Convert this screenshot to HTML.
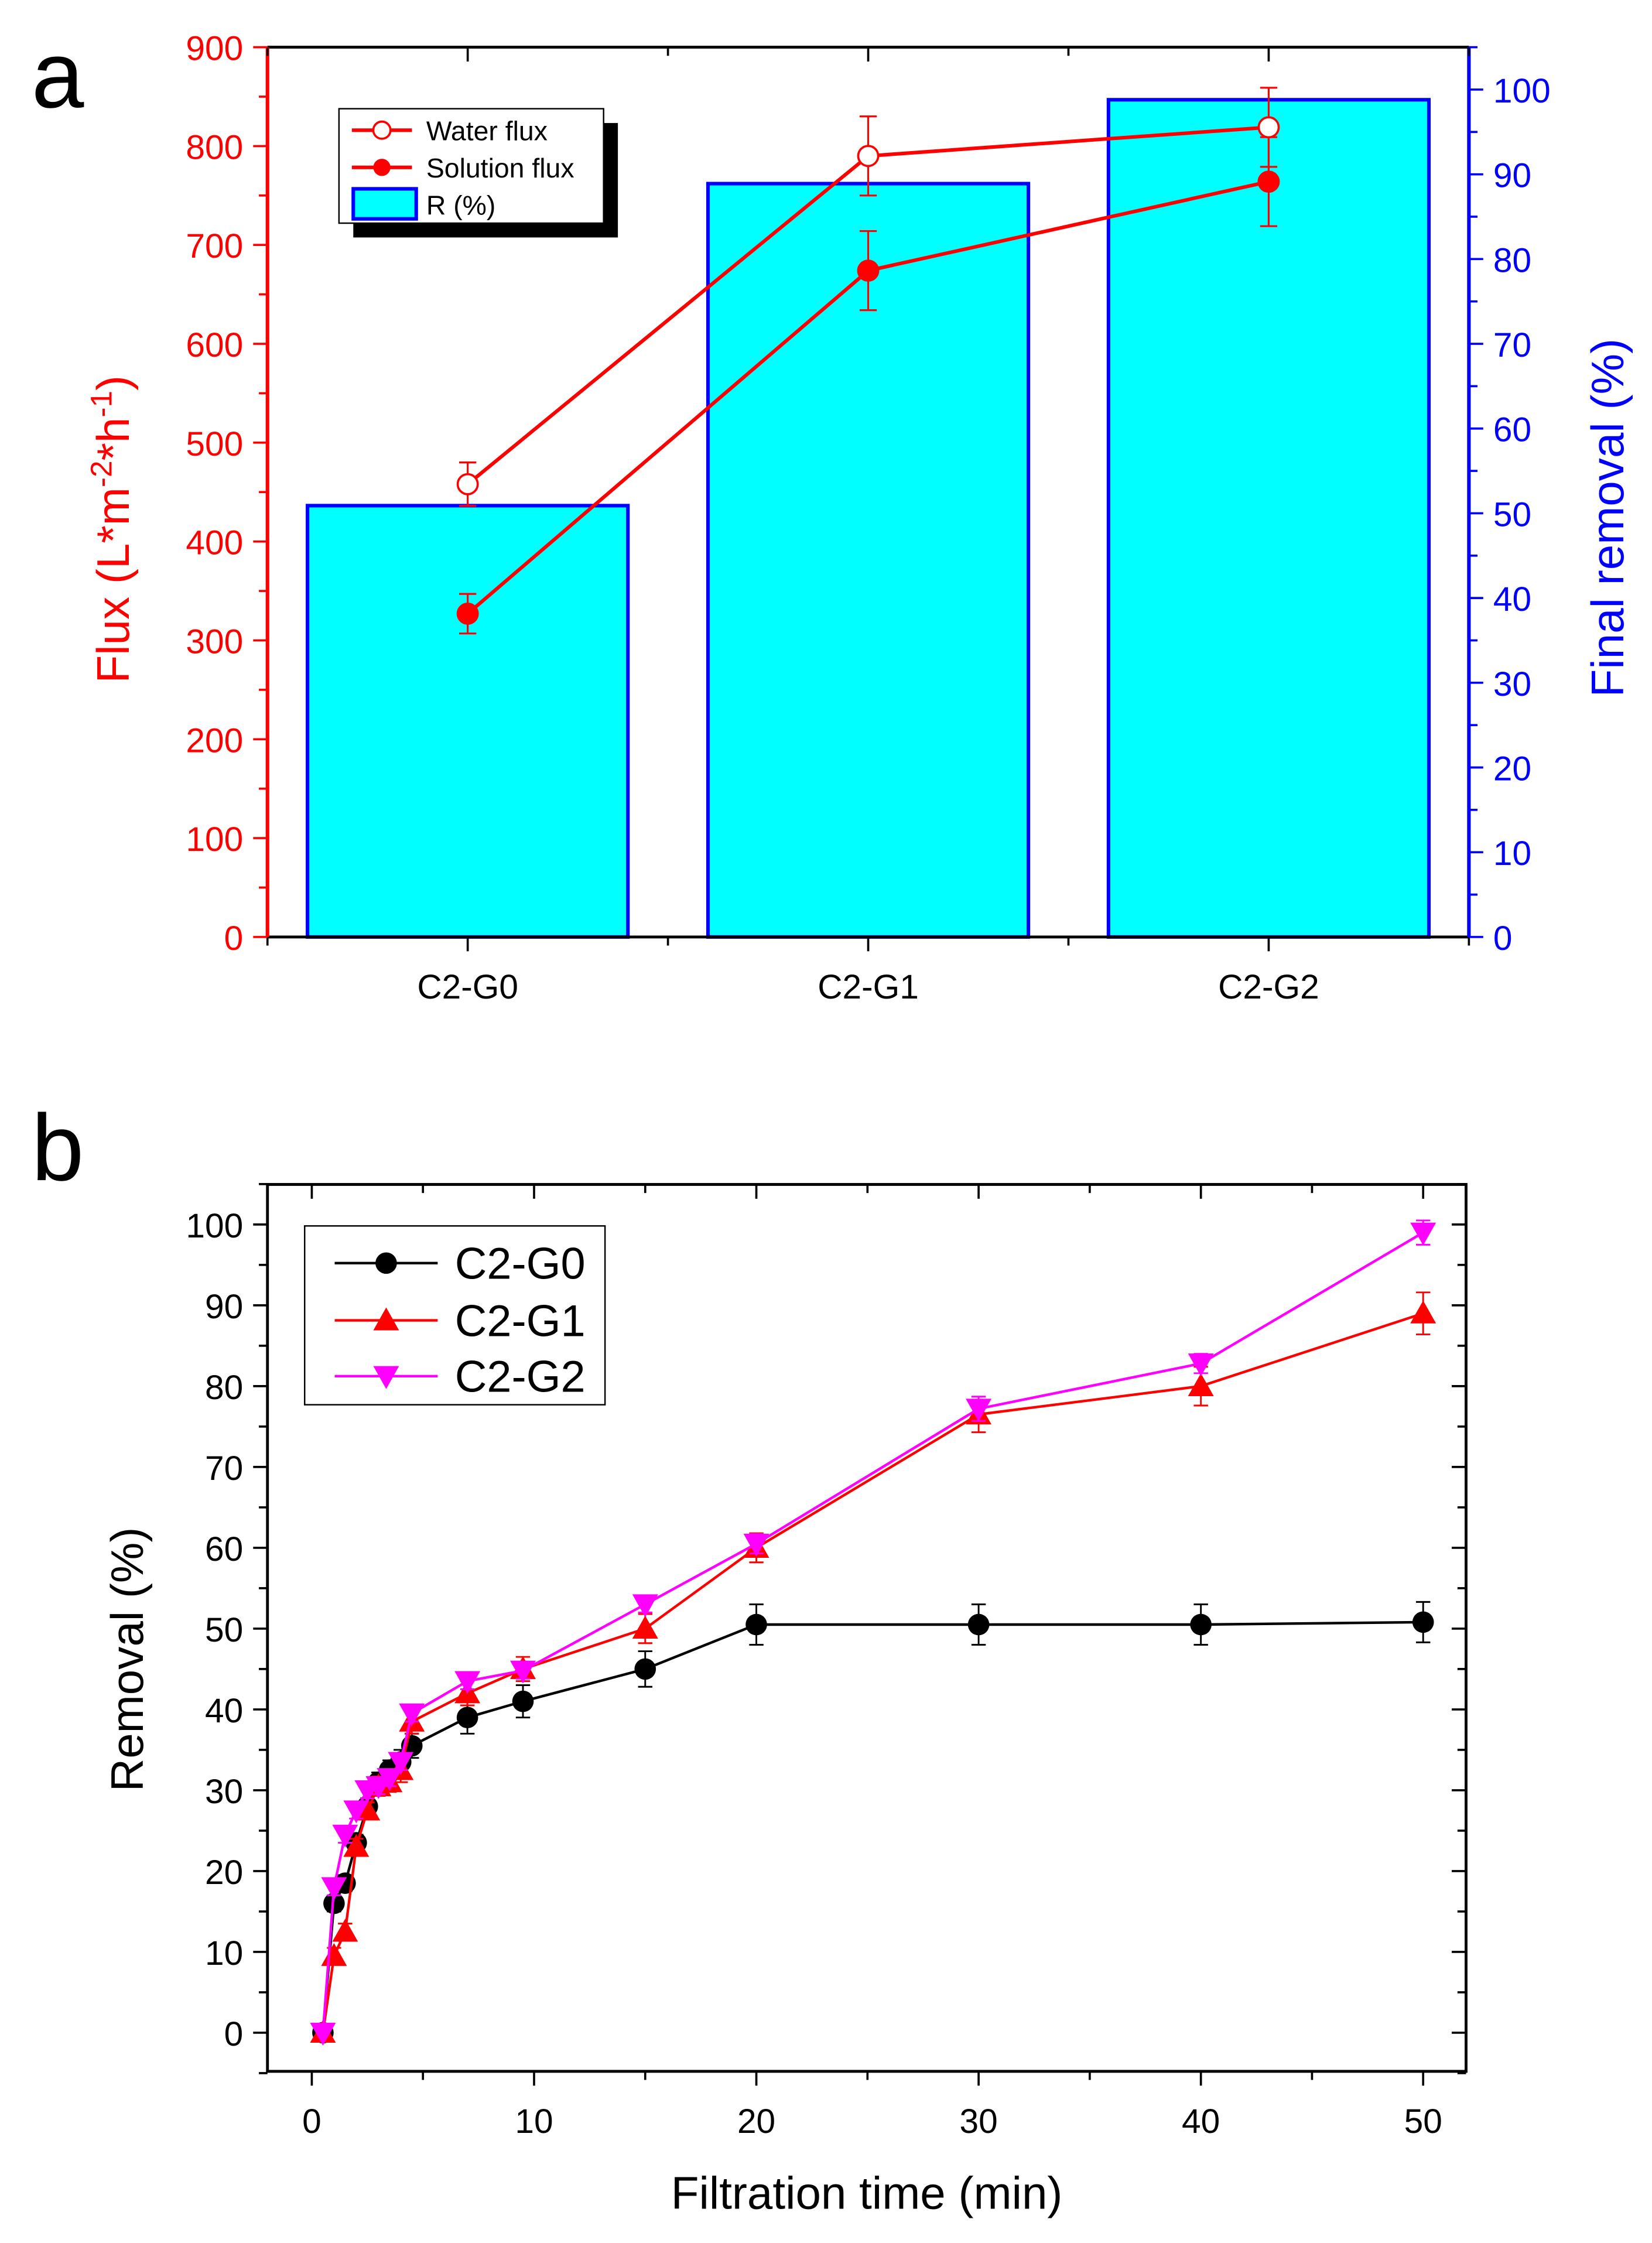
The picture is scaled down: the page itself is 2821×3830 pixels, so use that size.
<!DOCTYPE html>
<html><head><meta charset="utf-8"><style>
html,body{margin:0;padding:0;background:#fff;}
svg{display:block;font-family:"Liberation Sans",Arial,sans-serif;}
</style></head><body>
<svg id="fig" width="2821" height="3830" viewBox="0 0 1155 1568" preserveAspectRatio="none" xmlns="http://www.w3.org/2000/svg">
<rect width="1155" height="1568" fill="#fff"/>
<text x="22" y="75" font-size="66">a</text>
<text x="22" y="825" font-size="66">b</text>
<g id="ga"></g>
<g id="gb"></g>
</svg>
<script>
// ---- Chart A data ----
const catsA = ["C2-G0","C2-G1","C2-G2"];
const removalA = [50.9, 88.9, 98.8];
const waterFlux = [458, 790, 819];
const waterErr = [22, 40, 40];
const solFlux = [327, 674, 764];
const solErr = [20, 40, 45];
const leftTicks = [0,100,200,300,400,500,600,700,800,900];
const rightTicks = [0,10,20,30,40,50,60,70,80,90,100];
// ---- Chart B data ----
const timesB = [0.5,1,1.5,2,2.5,3,3.5,4,4.5,7,9.5,15,20,30,40,50];
const g0 = [0,16,18.5,23.5,28,31,32.5,33.5,35.5,39,41,45,50.5,50.5,50.5,50.8];
const g1 = [0,9.5,12.5,23,27.5,30.5,31,32.5,38.5,42,45,50,60,76.5,80,89];
const g2 = [0,18,24.5,27.5,30,30.5,31.5,33.5,39.5,43.5,44.8,53,60.5,77.2,82.8,99];
const errG0 = [0,1,1,1,1,1.2,1.2,1.5,1.5,2,2,2.2,2.5,2.5,2.5,2.5];
const errG1 = [0,1,1,1,1,1.2,1.2,1.5,1.5,1.5,1.5,1.8,1.8,2.2,2.4,2.6];
const errG2 = [0,1,1,1,1,1,1,1,1,1,1,1,1.2,1.5,1.2,1.5];
const xTicksB = [0,10,20,30,40,50];
const yTicksB = [0,10,20,30,40,50,60,70,80,90,100];

const NS="http://www.w3.org/2000/svg";
function mk(parent,tag,attrs,txt){const e=document.createElementNS(NS,tag);for(const k in attrs)e.setAttribute(k,attrs[k]);if(txt!==undefined)e.textContent=txt;parent.appendChild(e);return e;}

// ===== Chart A =====
const ga=document.getElementById('ga');
const AL=187,AR=1027,AT=33,AB=655;
const xA=i=>AL+(i+0.5)*280;
const yL=v=>AB-v*(AB-AT)/900;
const yR=v=>AB-v*(AB-AT)/105;
removalA.forEach((v,i)=>{
  const b=mk(ga,'rect',{x:xA(i)-112,y:yR(v),width:224,height:AB-yR(v),fill:'#00ffff',stroke:'#0000ff','stroke-width':2.5});
  
  
});
mk(ga,'line',{x1:AL,y1:AT,x2:AR,y2:AT,stroke:'#000','stroke-width':2});
mk(ga,'line',{x1:AL,y1:AB,x2:AR,y2:AB,stroke:'#000','stroke-width':2});
mk(ga,'line',{x1:AL,y1:AT,x2:AL,y2:AB,stroke:'#ff0000','stroke-width':2.5});
mk(ga,'line',{x1:AR,y1:AT,x2:AR,y2:AB,stroke:'#0000ff','stroke-width':2.5});
for(let k=0;k<=6;k++){const x=AL+k*140;mk(ga,'line',{x1:x,y1:AB,x2:x,y2:AB+(k%2?10:6),stroke:'#000','stroke-width':1.5});mk(ga,'line',{x1:x,y1:AT,x2:x,y2:AT+(k%2?10:6),stroke:'#000','stroke-width':1.5});}
catsA.forEach((c,i)=>{const t=mk(ga,'text',{x:xA(i),y:698,'font-size':24,'text-anchor':'middle',fill:'#000'},c);

});
for(let v=0;v<=900;v+=50){const y=yL(v);mk(ga,'line',{x1:AL-(v%100?6:10),y1:y,x2:AL,y2:y,stroke:'#ff0000','stroke-width':1.5});}
leftTicks.forEach(v=>{const t=mk(ga,'text',{x:AL-17,y:yL(v)+9,'font-size':24,'text-anchor':'end',fill:'#ff0000'},v);

});
for(let v=0;v<=105;v+=5){const y=yR(v);mk(ga,'line',{x1:AR,y1:y,x2:AR+(v%10?6:10),y2:y,stroke:'#0000ff','stroke-width':1.5});}
rightTicks.forEach(v=>{const t=mk(ga,'text',{x:AR+17,y:yR(v)+9,'font-size':24,'text-anchor':'start',fill:'#0000ff'},v);

});
let t=mk(ga,'text',{transform:'translate(90,370) rotate(-90)','font-size':32,'text-anchor':'middle',fill:'#ff0000'});


t.innerHTML='Flux (L*m<tspan dy="-12" font-size="21">-2</tspan><tspan dy="12">*h</tspan><tspan dy="-12" font-size="21">-1</tspan><tspan dy="12">)</tspan>';
t=mk(ga,'text',{transform:'translate(1135,362) rotate(-90)','font-size':32,'text-anchor':'middle',fill:'#0000ff'},'Final removal (%)');


function fluxSeries(vals,errs,filled,name){
  const pts=vals.map((v,i)=>xA(i)+','+yL(v)).join(' ');
  const l=mk(ga,'polyline',{points:pts,fill:'none',stroke:'#ff0000','stroke-width':2.5});
  
  
  vals.forEach((v,i)=>{const x=xA(i);
    mk(ga,'line',{x1:x,y1:yL(v+errs[i]),x2:x,y2:yL(v-errs[i]),stroke:'#ff0000','stroke-width':1.3});
    mk(ga,'line',{x1:x-6,y1:yL(v+errs[i]),x2:x+6,y2:yL(v+errs[i]),stroke:'#ff0000','stroke-width':1.3});
    mk(ga,'line',{x1:x-6,y1:yL(v-errs[i]),x2:x+6,y2:yL(v-errs[i]),stroke:'#ff0000','stroke-width':1.3});
    const c=mk(ga,'circle',{cx:x,cy:yL(v),r:7,fill:filled?'#ff0000':'#fff',stroke:'#ff0000','stroke-width':1.5});
    
    
  });
}
fluxSeries(waterFlux,waterErr,false,'water-flux');
fluxSeries(solFlux,solErr,true,'solution-flux');
const la=mk(ga,'g',{});


mk(la,'rect',{x:247,y:86,width:185,height:80,fill:'#000'});
mk(la,'rect',{x:237,y:76,width:185,height:80,fill:'#fff',stroke:'#000','stroke-width':1});
mk(la,'line',{x1:246,y1:91,x2:288,y2:91,stroke:'#ff0000','stroke-width':2.5});
mk(la,'circle',{cx:267,cy:91,r:6,fill:'#fff',stroke:'#ff0000','stroke-width':1.5});
mk(la,'text',{x:298,y:98,'font-size':19},'Water flux');
mk(la,'line',{x1:246,y1:117,x2:288,y2:117,stroke:'#ff0000','stroke-width':2.5});
mk(la,'circle',{cx:267,cy:117,r:6,fill:'#ff0000'});
mk(la,'text',{x:298,y:124,'font-size':19},'Solution flux');
mk(la,'rect',{x:247,y:132,width:44,height:21,fill:'#00ffff',stroke:'#0000ff','stroke-width':2.5});
mk(la,'text',{x:298,y:150,'font-size':19},'R (%)');

// ===== Chart B =====
const gb=document.getElementById('gb');
const BL=187,BR=1025,BT=828,BBm=1448;
const xB=v=>218+v*(995-218)/50;
const yB=v=>1421-v*(1421-856)/100;
mk(gb,'rect',{x:BL,y:BT,width:BR-BL,height:BBm-BT,fill:'none',stroke:'#000','stroke-width':2});
for(let v=0;v<=50;v+=5){const x=xB(v);const L=v%10?6:10;mk(gb,'line',{x1:x,y1:BBm,x2:x,y2:BBm+L,stroke:'#000','stroke-width':1.5});mk(gb,'line',{x1:x,y1:BT,x2:x,y2:BT+L,stroke:'#000','stroke-width':1.5});}
xTicksB.forEach(v=>{const t=mk(gb,'text',{x:xB(v),y:1491,'font-size':24,'text-anchor':'middle'},v);

});
for(let v=-5;v<=105;v+=5){const y=yB(v);const L=v%10?6:10;mk(gb,'line',{x1:BL-L,y1:y,x2:BL,y2:y,stroke:'#000','stroke-width':1.5});mk(gb,'line',{x1:BR-L,y1:y,x2:BR,y2:y,stroke:'#000','stroke-width':1.5});}
yTicksB.forEach(v=>{const t=mk(gb,'text',{x:BL-17,y:yB(v)+9,'font-size':24,'text-anchor':'end'},v);

});
t=mk(gb,'text',{x:606,y:1544,'font-size':32,'text-anchor':'middle'},'Filtration time (min)');


t=mk(gb,'text',{transform:'translate(100,1160) rotate(-90)','font-size':32,'text-anchor':'middle'},'Removal (%)');


function marker(p,x,y,shape,col){
  if(shape==='c')return mk(p,'circle',{cx:x,cy:y,r:7.5,fill:col});
  if(shape==='u')return mk(p,'polygon',{points:`${x},${y-9} ${x-9},${y+7} ${x+9},${y+7}`,fill:col});
  return mk(p,'polygon',{points:`${x},${y+9} ${x-9},${y-7} ${x+9},${y-7}`,fill:col});
}
function seriesB(vals,errs,col,shape,name){
  const pts=vals.map((v,i)=>xB(timesB[i])+','+yB(v)).join(' ');
  const l=mk(gb,'polyline',{points:pts,fill:'none',stroke:col,'stroke-width':1.8});
  
  
  vals.forEach((v,i)=>{const x=xB(timesB[i]);
    if(errs[i]>0){mk(gb,'line',{x1:x,y1:yB(v+errs[i]),x2:x,y2:yB(v-errs[i]),stroke:col,'stroke-width':1.2});
    mk(gb,'line',{x1:x-5,y1:yB(v+errs[i]),x2:x+5,y2:yB(v+errs[i]),stroke:col,'stroke-width':1.2});
    mk(gb,'line',{x1:x-5,y1:yB(v-errs[i]),x2:x+5,y2:yB(v-errs[i]),stroke:col,'stroke-width':1.2});}
    const m=marker(gb,x,yB(v),shape,col);
    
    
  });
}
seriesB(g0,errG0,'#000','c','c2-g0');
seriesB(g1,errG1,'#ff0000','u','c2-g1');
seriesB(g2,errG2,'#ff00ff','d','c2-g2');
const lb=mk(gb,'g',{});


mk(lb,'rect',{x:213,y:857,width:210,height:125,fill:'#fff',stroke:'#000','stroke-width':1});
[['C2-G0','#000','c',883],['C2-G1','#ff0000','u',923],['C2-G2','#ff00ff','d',962]].forEach(r=>{
  mk(lb,'line',{x1:234,y1:r[3],x2:306,y2:r[3],stroke:r[1],'stroke-width':1.8});
  marker(lb,270,r[3],r[2],r[1]);
  mk(lb,'text',{x:318,y:r[3]+11,'font-size':31},r[0]);
});
</script>
</body></html>
